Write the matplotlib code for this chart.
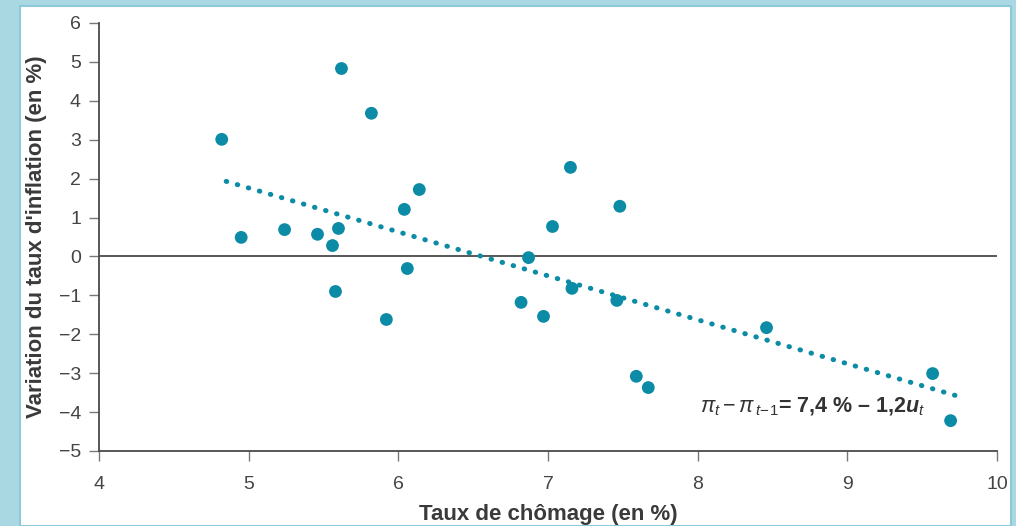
import numpy as np
import matplotlib.pyplot as plt
from matplotlib.patches import Rectangle

plt.rcParams['mathtext.fontset'] = 'custom'
plt.rcParams['mathtext.rm'] = 'Liberation Sans'
plt.rcParams['mathtext.it'] = 'Liberation Sans:italic'
plt.rcParams['mathtext.bf'] = 'Liberation Sans:bold'
plt.rcParams['mathtext.bfit'] = 'Liberation Sans:italic:bold'

# Data
unemployment = [4.82, 4.95, 5.24, 5.46, 5.56, 5.60, 5.58, 5.62, 5.82, 5.92,
                6.04, 6.06, 6.14, 6.82, 6.87, 6.97, 7.03, 7.15, 7.16, 7.46,
                7.48, 7.59, 7.67, 8.46, 9.57, 9.69]
inflation_change = [3.01, 0.49, 0.69, 0.57, 0.28, 0.72, -0.90, 4.83, 3.68, -1.62,
                    1.21, -0.31, 1.72, -1.18, -0.03, -1.54, 0.77, 2.29, -0.82, -1.13,
                    1.29, -3.08, -3.37, -1.83, -3.01, -4.22]
trend_x = [4.85, 9.72]
trend_y = [1.93, -3.57]

teal = '#0b8ba6'
grey = '#4a4a4a'

fig = plt.figure(figsize=(10.16, 5.26), dpi=100)
fig.patch.set_facecolor('#a9d8e3')
# white panel inside the light blue frame
fig.add_artist(Rectangle((20 / 1016, 0), (1011 - 20) / 1016, 1 - 6 / 526,
                         transform=fig.transFigure, facecolor='white',
                         edgecolor='#8ccadb', linewidth=1.5, zorder=0))

ax = fig.add_axes([99 / 1016, 1 - 451 / 526, (997 - 99) / 1016, (451 - 23) / 526])
ax.set_facecolor('none')

ax.axhline(0, color=grey, linewidth=1.3, zorder=1)
ax.plot(trend_x, trend_y, linestyle=(0, (0.1, 2.2)), dash_capstyle='round',
        color=teal, linewidth=3.6, zorder=2)
ax.scatter(unemployment, inflation_change, s=85, color=teal, edgecolors='none', zorder=3)

# regression equation
ax.text(9.52, -3.86, r'$\pi_{t}-\pi_{\,t\!-\!1}$= 7,4 % – 1,2$\mathbfit{u}_{t}$',
        ha='right', va='center', fontsize=15.5, color='#333333',
        family='Liberation Sans', fontweight='bold')

ax.set_xlim(4, 10)
ax.set_ylim(-5, 6)
ax.set_xticks(range(4, 11))
ax.set_yticks(range(-5, 7))
ax.set_yticklabels([str(v).replace('-', '\u2212') for v in range(-5, 7)])

for side in ['top', 'right']:
    ax.spines[side].set_visible(False)
for side in ['left', 'bottom']:
    ax.spines[side].set_color(grey)
    ax.spines[side].set_linewidth(1.3)

ax.tick_params(direction='out', length=7, width=1, color='#777777',
               labelsize=14, labelcolor='#444444', pad=6)
ax.tick_params(axis='x', pad=11)
for lab in ax.get_xticklabels() + ax.get_yticklabels():
    lab.set_family('Liberation Sans')

ax.set_xlabel('Taux de chômage (en %)', fontsize=16, fontweight='bold',
              color='#3a3a3a', family='Liberation Sans', labelpad=8)
ax.set_ylabel("Variation du taux d'inflation (en %)", fontsize=16, fontweight='bold',
              color='#3a3a3a', family='Liberation Sans', labelpad=8)

fig.savefig('out.png', dpi=100, facecolor=fig.get_facecolor())
